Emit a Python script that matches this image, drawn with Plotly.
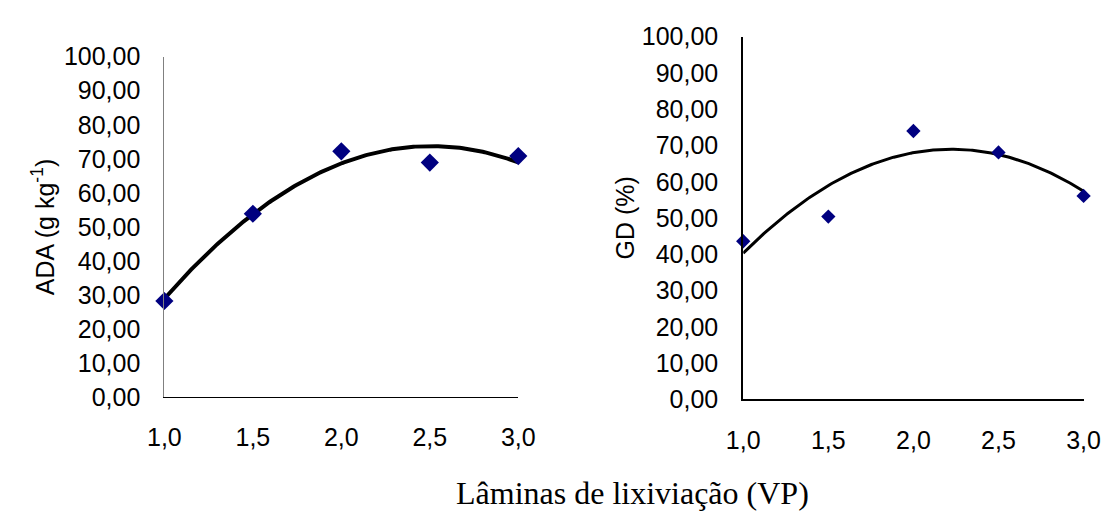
import numpy as np
import plotly.graph_objects as go

# Data
laminas = [1.0, 1.5, 2.0, 2.5, 3.0]
ada = [28.3, 53.9, 72.2, 68.9, 70.8]
gd = [43.6, 50.4, 74.0, 68.1, 56.1]
x_ticks = [1.0, 1.5, 2.0, 2.5, 3.0]
y_ticks = [0, 10, 20, 30, 40, 50, 60, 70, 80, 90, 100]

# Quadratic trend lines (fitted to the points)
xs = np.linspace(1.0, 3.0, 200)
ada_fit = np.polyval(np.polyfit(laminas, ada, 2), xs)
gd_fit = np.polyval(np.polyfit(laminas, gd, 2), xs)

W, H = 1119, 526
navy = "#000080"
sans = "Liberation Sans, Arial, sans-serif"
serif = "Liberation Serif, Times New Roman, serif"

fig = go.Figure()
fig.add_trace(go.Scatter(x=xs, y=ada_fit, mode="lines", line=dict(color="black", width=4),
                         xaxis="x", yaxis="y", showlegend=False, hoverinfo="skip"))
fig.add_trace(go.Scatter(x=laminas, y=ada, mode="markers",
                         marker=dict(symbol="diamond", color=navy, size=14),
                         xaxis="x", yaxis="y", showlegend=False, cliponaxis=False))
fig.add_trace(go.Scatter(x=xs, y=gd_fit, mode="lines", line=dict(color="black", width=3),
                         xaxis="x2", yaxis="y2", showlegend=False, hoverinfo="skip"))
fig.add_trace(go.Scatter(x=laminas, y=gd, mode="markers",
                         marker=dict(symbol="diamond", color=navy, size=11),
                         xaxis="x2", yaxis="y2", showlegend=False, cliponaxis=False))

def px_x(p):
    return p / W

def px_y(p):
    return 1 - p / H

tick_font = dict(family=sans, size=25, color="black")
common_x = dict(range=[1.0, 3.0], tickvals=x_ticks, tickformat=".1f", showgrid=False,
                zeroline=False, ticks="", tickfont=tick_font,
                ticklabelstandoff=18, showline=True, linecolor="black")
common_y = dict(range=[0, 100], tickvals=y_ticks, tickformat=".2f", showgrid=False,
                zeroline=False, ticks="", tickfont=tick_font,
                ticklabelstandoff=18, showline=True)

fig.update_layout(
    width=W, height=H,
    margin=dict(l=0, r=0, t=0, b=0),
    paper_bgcolor="white", plot_bgcolor="white",
    separators=",.",
    xaxis=dict(domain=[px_x(152), px_x(517)], anchor="y", linewidth=1, **common_x),
    yaxis=dict(domain=[px_y(405), px_y(45)], anchor="x", linecolor="#808080", linewidth=1, **common_y),
    xaxis2=dict(domain=[px_x(749), px_x(1100)], anchor="y2", linewidth=2, **common_x),
    yaxis2=dict(domain=[px_y(407), px_y(24)], anchor="x2", linecolor="black", linewidth=2, **common_y),
    annotations=[
        dict(text="ADA (g kg<sup>-1</sup>)", x=px_x(27), y=px_y(225), xref="paper", yref="paper",
             textangle=-90, showarrow=False, font=dict(family=sans, size=25, color="black"),
             xanchor="center", yanchor="middle"),
        dict(text="GD (%)", x=px_x(627), y=px_y(215), xref="paper", yref="paper",
             textangle=-90, showarrow=False, font=dict(family=sans, size=25, color="black"),
             xanchor="center", yanchor="middle"),
        dict(text="Lâminas de lixiviação (VP)", x=px_x(635), y=px_y(506), xref="paper", yref="paper",
             showarrow=False, font=dict(family=serif, size=32, color="black"),
             xanchor="center", yanchor="middle"),
    ],
)

fig.write_html("out.html",
               config={"displayModeBar": False},
               post_script="document.body.style.margin='0';document.body.style.overflow='hidden';")
